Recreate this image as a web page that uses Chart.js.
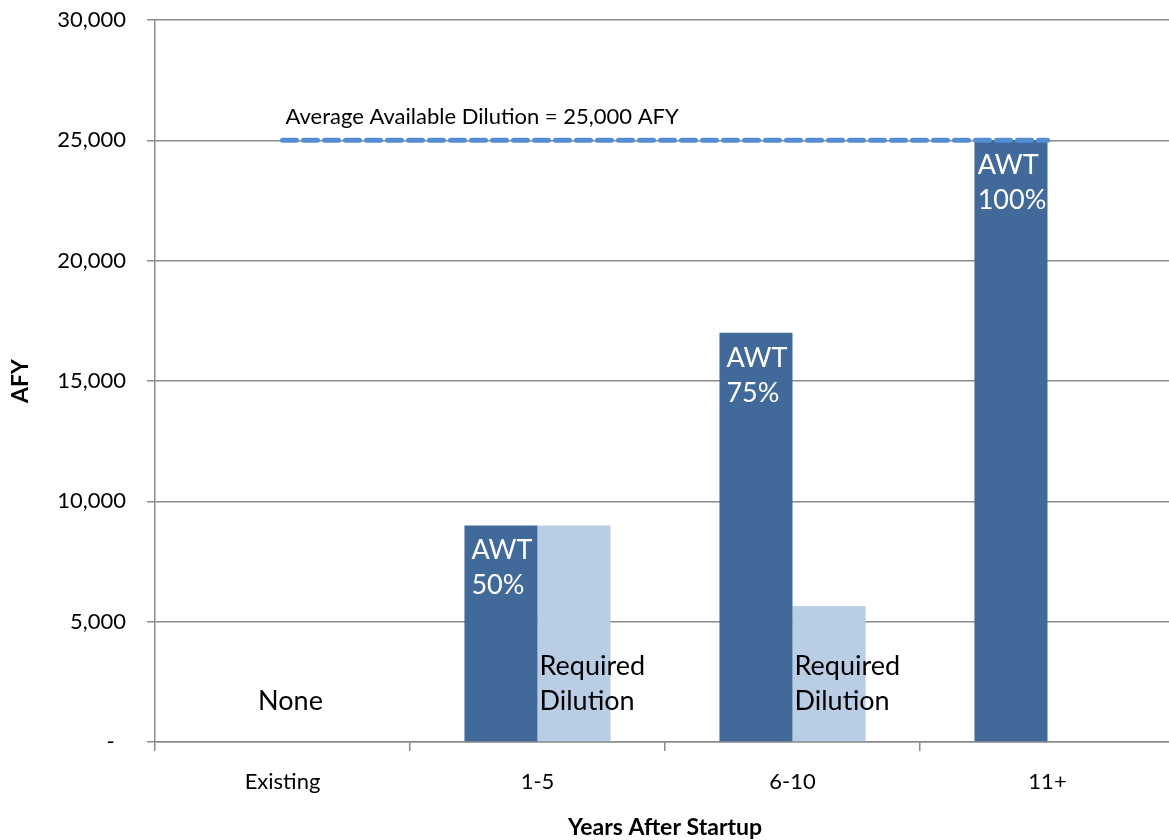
<!DOCTYPE html>
<html>
<head>
<meta charset="utf-8">
<script src="https://cdn.jsdelivr.net/npm/chart.js@4.4.1/dist/chart.umd.min.js"></script>
<style>
  html, body { margin: 0; padding: 0; background: #fff; overflow: hidden; }
  #wrap { width: 1169px; height: 840px; overflow: hidden; }
</style>
</head>
<body>
<div id="wrap"><canvas id="myChart" width="1175" height="840"></canvas></div>
<script>
const categorias = ["Existing", "1-5", "6-10", "11+"];
const awtValores = [null, 9000, 17000, 25000];
const dilucionValores = [null, 9000, 5650, null];
const dilucionDisponible = [25000, 25000, 25000, 25000];
const awtEtiquetas = [null, ["AWT", "50%"], ["AWT", "75%"], ["AWT", "100%"]];
const dilucionEtiquetas = [null, ["Required", "Dilution"], ["Required", "Dilution"], null];
const textoNinguno = "None";
const textoLinea = "Average Available Dilution = 25,000 AFY";
const yTicks = [0, 5000, 10000, 15000, 20000, 25000, 30000];

const fuente = "Lato, 'Open Sans', sans-serif";
const gris = "#8a8a8a";

// textos dentro del grafico y titulos de ejes
const textosPlugin = {
  id: "textos",
  afterDatasetsDraw(chart) {
    const ctx = chart.ctx;
    const area = chart.chartArea;
    const xs = chart.scales.x;
    const ys = chart.scales.y;
    ctx.save();
    ctx.font = "27px " + fuente;
    ctx.textBaseline = "middle";
    ctx.textAlign = "left";

    // etiquetas AWT (blancas, dentro de la barra)
    const metaAwt = chart.getDatasetMeta(0);
    awtEtiquetas.forEach((lineas, i) => {
      if (!lineas) return;
      const bar = metaAwt.data[i];
      const anchoMax = Math.max(...lineas.map(l => ctx.measureText(l).width));
      const x0 = bar.x - anchoMax / 2 + 1;
      ctx.fillStyle = "#ffffff";
      lineas.forEach((l, k) => ctx.fillText(l, x0, bar.y + 25 + k * 35));
    });

    // etiquetas Required Dilution (negras)
    const metaDil = chart.getDatasetMeta(1);
    dilucionEtiquetas.forEach((lineas, i) => {
      if (!lineas) return;
      const bar = metaDil.data[i];
      const x0 = bar.x - bar.width / 2 + 2;
      ctx.fillStyle = "#000000";
      lineas.forEach((l, k) => ctx.fillText(l, x0, area.bottom - 76 + k * 35));
    });

    // None
    ctx.fillStyle = "#000000";
    ctx.textAlign = "center";
    ctx.fillText(textoNinguno, xs.getPixelForValue(0) + 8, area.bottom - 41);

    // texto de la linea
    ctx.font = "22px " + fuente;
    ctx.textAlign = "left";
    ctx.fillText(textoLinea, xs.getPixelForValue(0) + 3, ys.getPixelForValue(25000) - 23);

    // titulos de ejes
    ctx.font = "bold 23px " + fuente;
    ctx.textAlign = "center";
    ctx.fillText("Years After Startup", (area.left + area.right) / 2, 828);
    ctx.translate(21, (area.top + area.bottom) / 2);
    ctx.rotate(-Math.PI / 2);
    ctx.fillText("AFY", 0, 0);
    ctx.restore();
  }
};

const config = {
  data: {
    labels: categorias,
    datasets: [
      {
        type: "bar",
        label: "AWT",
        data: awtValores,
        backgroundColor: "#416a9b",
        categoryPercentage: 0.573,
        barPercentage: 1.0,
        order: 1
      },
      {
        type: "bar",
        label: "Required Dilution",
        data: dilucionValores,
        backgroundColor: "#b9cde5",
        categoryPercentage: 0.573,
        barPercentage: 1.0,
        order: 1
      },
      {
        type: "line",
        label: "Average Available Dilution",
        data: dilucionDisponible,
        borderColor: "#558ed5",
        borderWidth: 5,
        borderDash: [14, 7],
        borderCapStyle: "round",
        pointRadius: 0,
        fill: false,
        order: 0
      }
    ]
  },
  options: {
    responsive: false,
    animation: false,
    layout: { padding: { top: 20, right: 0, left: 0, bottom: 0 } },
    plugins: {
      legend: { display: false },
      tooltip: { enabled: false }
    },
    scales: {
      x: {
        offset: true,
        grid: {
          offset: true,
          drawOnChartArea: false,
          drawTicks: true,
          tickLength: 9,
          color: gris,
          lineWidth: 1.5
        },
        border: { color: gris, width: 1.5 },
        ticks: {
          color: "#000",
          font: { family: fuente, size: 22 },
          padding: 18
        },
        afterFit(scale) {
          scale.height = 98;
          scale.paddingLeft = 0;
          scale.paddingRight = 0;
        }
      },
      y: {
        min: 0,
        max: 30000,
        afterBuildTicks(scale) { scale.ticks = yTicks.map(v => ({ value: v })); },
        grid: {
          color: gris,
          lineWidth: 1.5,
          tickLength: 8
        },
        border: { color: gris, width: 1.5 },
        ticks: {
          color: "#000",
          font: { family: fuente, size: 22 },
          padding: 21,
          callback: (v) => v === 0 ? "-  " : v.toLocaleString("en-US")
        },
        afterFit(scale) {
          scale.width = 155;
          scale.paddingTop = 0;
          scale.paddingBottom = 0;
        }
      }
    }
  },
  plugins: [textosPlugin]
};

new Chart(document.getElementById("myChart"), config);
</script>
</body>
</html>
